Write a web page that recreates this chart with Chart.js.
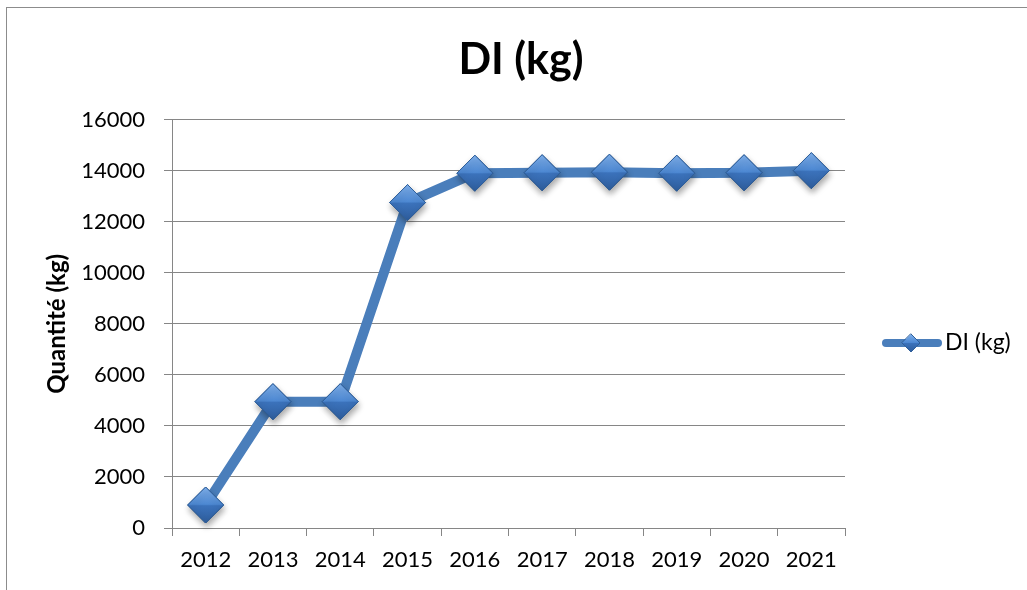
<!DOCTYPE html>
<html>
<head>
<meta charset="utf-8">
<script src="https://cdn.jsdelivr.net/npm/chart.js@4"></script>
<style>
  html, body { margin: 0; padding: 0; background: #fff; }
  #wrap { position: relative; width: 1027px; height: 590px; }
  #frame { position: absolute; left: 6px; top: 7px; right: -2px; bottom: -2px; border-left: 1px solid #8c8c8c; border-top: 1px solid #8c8c8c; pointer-events: none; }
</style>
</head>
<body>
<div id="wrap">
  <canvas id="c" width="1027" height="590"></canvas>
  <div id="frame"></div>
</div>
<script>
const years = ['2012', '2013', '2014', '2015', '2016', '2017', '2018', '2019', '2020', '2021']
const diKg = [900, 4950, 4950, 12750, 13900, 13920, 13940, 13900, 13920, 14000]
const seriesName = 'DI (kg)'
const chartTitle = 'DI (kg)'
const yTitle = 'Quantité (kg)'

const FONT = 'Lato, "Open Sans", sans-serif'
const LINE = '#4a7ebb'
const GRID = '#868686'

function diamondGrad(c2d, y, r) {
  const g = c2d.createLinearGradient(0, y - r, 0, y + r)
  g.addColorStop(0, '#7fb0ec')
  g.addColorStop(0.48, '#4d88d2')
  g.addColorStop(0.52, '#3b72bb')
  g.addColorStop(1, '#2e5d9c')
  return g
}

function diamondFill(ctx) {
  const chart = ctx.chart
  const sy = chart.scales && chart.scales.y
  if (!sy || !ctx.parsed) return '#4d88d2'
  const y = sy.getPixelForValue(ctx.parsed.y)
  if (!isFinite(y)) return '#4d88d2'
  return diamondGrad(chart.ctx, y, 18)
}

// shadows under the markers + the legend on the right
const extras = {
  id: 'extras',
  afterDatasetsDraw(chart) {
    const ctx = chart.ctx
    const meta = chart.getDatasetMeta(0)
    ctx.save()
    ctx.shadowColor = 'rgba(0,0,0,0.35)'
    ctx.shadowBlur = 6
    ctx.shadowOffsetX = 1
    ctx.shadowOffsetY = 4
    meta.data.forEach(p => p.draw(ctx, chart.chartArea))
    ctx.restore()
  },
  afterDraw(chart) {
    const ctx = chart.ctx
    const ly = 343
    ctx.save()
    ctx.strokeStyle = LINE
    ctx.lineWidth = 8
    ctx.lineCap = 'round'
    ctx.beginPath(); ctx.moveTo(886, ly); ctx.lineTo(938, ly); ctx.stroke()
    ctx.fillStyle = diamondGrad(ctx, ly, 9)
    ctx.strokeStyle = '#2f5f9a'
    ctx.lineWidth = 1
    ctx.beginPath()
    ctx.moveTo(911, ly - 9); ctx.lineTo(920, ly); ctx.lineTo(911, ly + 9); ctx.lineTo(902, ly); ctx.closePath()
    ctx.fill(); ctx.stroke()
    ctx.fillStyle = '#000'
    ctx.font = '23px ' + FONT
    ctx.textBaseline = 'middle'
    ctx.fillText(chart.data.datasets[0].label, 945, ly)
    ctx.restore()
  }
}

new Chart(document.getElementById('c'), {
  type: 'line',
  data: {
    labels: years,
    datasets: [{
      label: seriesName,
      data: diKg,
      borderColor: LINE,
      borderWidth: 10,
      borderJoinStyle: 'round',
      tension: 0,
      pointStyle: 'rectRot',
      pointRadius: 18,
      pointHoverRadius: 18,
      pointBorderWidth: 1,
      pointBorderColor: '#2f5f9a',
      pointBackgroundColor: diamondFill,
    }],
  },
  options: {
    responsive: false,
    animation: false,
    events: [],
    layout: { padding: { left: 43, right: 28, top: 0, bottom: 0 } },
    plugins: {
      legend: { display: false },
      tooltip: { enabled: false },
      title: {
        display: true, text: chartTitle, color: '#000',
        font: { family: FONT, size: 43, weight: 'bold', lineHeight: 1.2 },
        padding: { top: 34, bottom: 34 },
      },
    },
    scales: {
      x: {
        offset: true,
        grid: { offset: true, drawOnChartArea: false, drawTicks: true, tickLength: 8, color: GRID, lineWidth: 1 },
        border: { display: true, color: GRID, width: 1 },
        ticks: { color: '#000', font: { family: FONT, size: 22 }, padding: 11, maxRotation: 0, autoSkip: false },
        afterFit: s => { s.height = 62 },
      },
      y: {
        min: 0, max: 16000,
        grid: { color: GRID, lineWidth: 1, tickLength: 8, drawTicks: true },
        border: { display: true, color: GRID, width: 1 },
        ticks: { stepSize: 2000, color: '#000', font: { family: FONT, size: 22 }, padding: 19, callback: v => String(v) },
        title: { display: true, text: yTitle, color: '#000', font: { family: FONT, size: 24, weight: 'bold', lineHeight: 1.2 }, padding: { top: 0, bottom: 0 } },
        afterFit: s => { s.width = 129 },
      },
      // empty room on the right for the legend
      legendSpace: {
        position: 'right', display: true,
        grid: { display: false }, border: { display: false }, ticks: { display: false },
        afterFit: s => { s.width = 154 },
      },
    },
  },
  plugins: [extras],
})
</script>
</body>
</html>
